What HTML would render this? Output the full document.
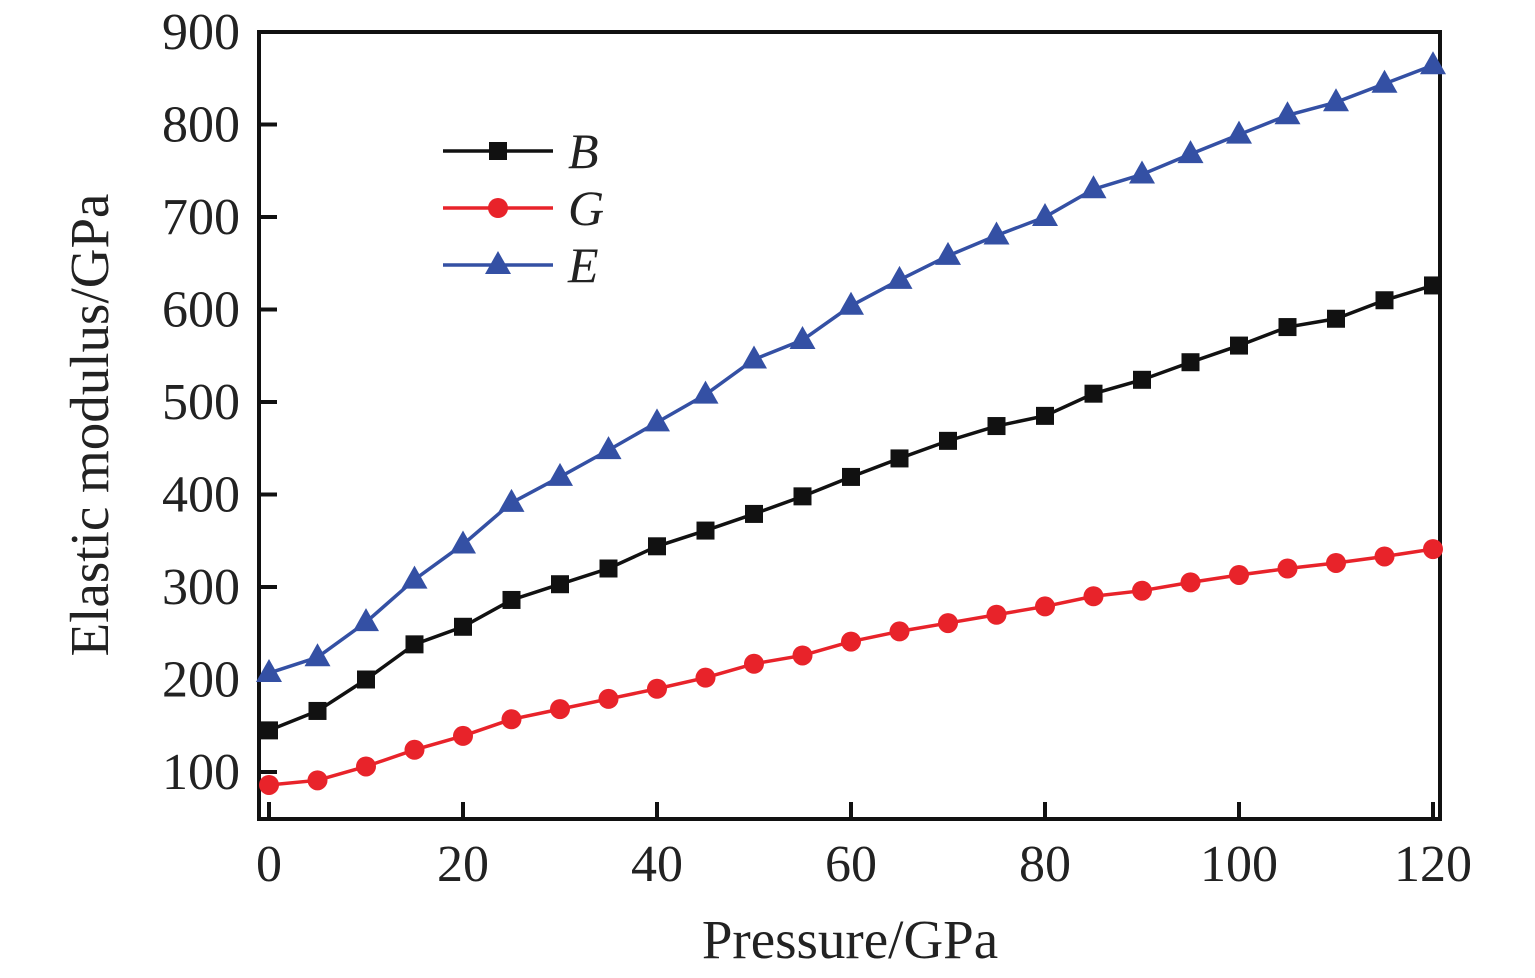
<!DOCTYPE html>
<html><head><meta charset="utf-8"><style>
html,body{margin:0;padding:0;background:#fff;}
svg text{font-family:"Liberation Serif",serif;fill:#222;}
</style></head><body>
<svg id="chart" width="1535" height="973" viewBox="0 0 1535 973" xmlns="http://www.w3.org/2000/svg"></svg>
<script>
const pressures=[0,5,10,15,20,25,30,35,40,45,50,55,60,65,70,75,80,85,90,95,100,105,110,115,120];
const bulkB=[145,166,200,238,257,286,303,320,344,361,379,398,419,439,458,474,485,509,524,543,561,581,590,610,626];
const shearG=[86,91,106,124,139,157,168,179,190,202,217,226,241,252,261,270,279,290,296,305,313,320,326,333,341];
const youngE=[207,224,262,308,346,391,419,448,478,508,546,567,604,632,658,680,700,730,746,768,789,810,824,844,864];
const xTicks=[0,20,40,60,80,100,120];
const yTicks=[100,200,300,400,500,600,700,800,900];
const NS="http://www.w3.org/2000/svg";
const svg=document.getElementById('chart');
const L=259,R=1440,T=32,B=819;
function sx(v){return 269+(v-0)*(1433-269)/120;}
function sy(v){return 772-(v-100)*(772-32)/800;}
function mk(tag,attrs,parent){const e=document.createElementNS(NS,tag);for(const k in attrs)e.setAttribute(k,attrs[k]);(parent||svg).appendChild(e);return e;}
const frame=mk('rect',{x:L,y:T,width:R-L,height:B-T,fill:'none',stroke:'#111','stroke-width':4});


xTicks.forEach(v=>{
  const t=mk('line',{x1:sx(v),x2:sx(v),y1:B,y2:B-17,stroke:'#111','stroke-width':4});
  
  
  const lb=mk('text',{x:sx(v),y:881,'font-size':52,'text-anchor':'middle'});lb.textContent=v;
  
  
});
yTicks.forEach(v=>{
  const t=mk('line',{x1:L,x2:L+18,y1:sy(v),y2:sy(v),stroke:'#111','stroke-width':4});
  
  
  const lb=mk('text',{x:240,y:sy(v)+17,'font-size':52,'text-anchor':'end'});lb.textContent=v;
  
  
});
const xt=mk('text',{x:850,y:958,'font-size':55,'text-anchor':'middle'});xt.textContent='Pressure/GPa';


const yt=mk('text',{x:0,y:0,'font-size':55,'text-anchor':'middle',transform:'translate(108,425) rotate(-90)'});yt.textContent='Elastic modulus/GPa';


function marker(kind,x,y,color,g){
  let e;
  if(kind==='sq')e=mk('rect',{x:x-9,y:y-9,width:18,height:18,fill:color},g);
  else if(kind==='ci')e=mk('circle',{cx:x,cy:y,r:10,fill:color},g);
  else e=mk('polygon',{points:`${x},${y-14} ${x-13},${y+9} ${x+13},${y+9}`,fill:color},g);
  
  
}
const series=[[bulkB,'#111','sq','B','series-b'],[shearG,'#e8232a','ci','G','series-g'],[youngE,'#3450a4','tr','E','series-e']];
series.forEach(([vals,color,kind,name,dn],i)=>{
  const g=mk('g',{});
  
  
  const pl=mk('polyline',{points:vals.map((v,j)=>sx(pressures[j])+','+sy(v)).join(' '),fill:'none',stroke:color,'stroke-width':3.5},g);
  
  
  vals.forEach((v,j)=>marker(kind,sx(pressures[j]),sy(v),color,g));
  const ly=151+i*57;
  const lg=mk('g',{});
  
  
  mk('line',{x1:443,x2:553,y1:ly,y2:ly,stroke:color,'stroke-width':3.5},lg);
  marker(kind,498,ly,color,lg);
  const tx=mk('text',{x:568,y:ly+17,'font-size':50,'font-style':'italic'},lg);tx.textContent=name;
});
</script>
</body></html>
